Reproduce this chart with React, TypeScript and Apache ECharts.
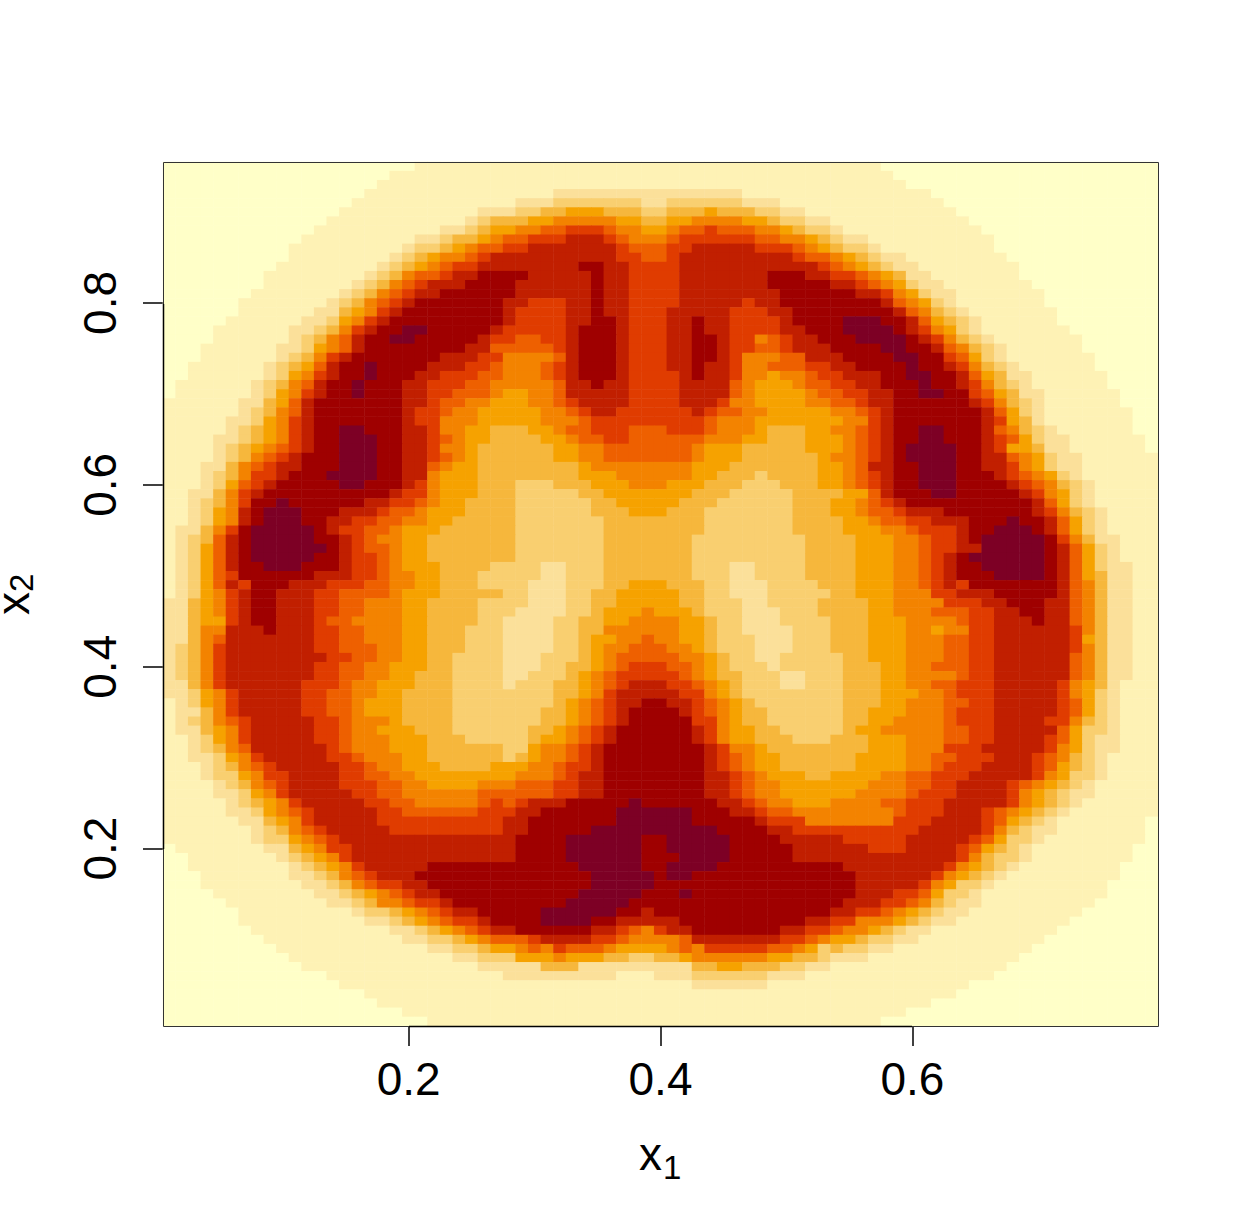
import React, { useEffect, useRef } from "react";
import * as echarts from "echarts";

// Level colours, lightest to darkest (a..l in the rows below)
const levelColors = [
  "#FFFFC8", "#FEF2B5", "#FBE09A", "#F9CF70", "#F6B73C", "#F6A200",
  "#F38300", "#EE6000", "#E03C00", "#C11F00", "#9F0000", "#7D0025",
];
const xTickValues = [0.2, 0.4, 0.6];
const yTickValues = [0.2, 0.4, 0.6, 0.8];
const xCount = 79;
const yCount = 95;

// Run-length coded rows, top (x2 = 0.95) to bottom (x2 = 0.01)
const rows = [
  "a20b37a22","a18b40a21","a17b42a20","a16b15c15b15a18","a15b13c3d7c2d6c3b13a17",
  "a14b11c3d2e2f3e3d2e3f1e3d2c2b12a16","a13b11c1d1e3f2g5f2e2f2g4f2e1d2c2b11a15",
  "a12b10c2d1e1f2g2h2i3h1g2f2g1h2i1h3g2f1e1d2c1b11a14",
  "a11b9c2d1e2f1g1h2i3j3i1h1g3h1i6h2g2f1e1d1c2b10a13",
  "a10b9c1d2e1f1g1h2i2j7i1h3i2j5i3h1g1f1e1d2c1b9a13",
  "a10b8c1d1e1f1g2h1i1j10i2h2i1j9i1h2g1f1e1d1c2b8a12",
  "a9b8c1d1e1f1g1h1i2j8k2j2i4j11i1h1g1f1e1d1c2b8a11",
  "a8b8c1d1e1g1h2i1j2k4j5k1j2i4j7k3j2i2h1g1f1e1c2b7a11",
  "a8b7c1d1e1g1h1i1j3k4j6k1j2i4j7k5j2i1h1g1f1d1c2b7a10",
  "a7b7c1d1e1g1h1i1j2k6j6k1j2i4j8k6j2i1g1f1d1c2b7a9",
  "a6b7c1d1e1g1h1i1j1k7j2i3j2k1j2i4j5i1j2k8j1h1g1f1d1c1b7a9",
  "a6b6c2e1f1g1i1j1k8j1i4j2k1j2i3j5i3j2k8j1h1g1e1d1c1b7a8",
  "a5b6c2d1f1g1i1j1k9j1i4j2k2j1i3j2k1j2i4j1k4l3k2j1h1f1e1d1c1b6a8",
  "a4b6c2d1e1g1i1j1k2l2k5j1i5j1k3j1i3j2k1j2i4j2k3l4k1j1i1g1f1d1c1b7a7",
  "a4b6c1d1e1g1h1j1k2l2k5j1i2h2i2j1k3j1i3j2k2j1i2g1h1i1j2k3l4k1j1i1g1e1d1c1b7a6",
  "a3b6c2d1f1g1h1j1k8j2h5i1j1k3j1i3j2k2j1i2h2i1j3k4l2k2j1h1g1e1d1c1b6a6",
  "a3b6c1d1e1g1i1j1k7j3i2g4h1j1k3j1i3j2k2j1i1g3h2j3k4l2k2i1h1f1d1c1b7a5",
  "a2b6c1d1e1f1h1j1k2l1k4j3i2h1g3h1i1j1k3j1i3j2k1j2i1g2h3i2j2k4l1k2j1i1g1e1d1c1b6a5",
  "a2b6c1d1f1g1i1j1k2l1k3j2i3h2g3h1i1j1k3j1i4j1k1j2i1g2f1g2h1i2j3k2l2k2j1h1f1e1c2b6a4",
  "a1b6c1d1e1g1h1j1k2l1k3j2i3h2g5h1j2k1j2i4j4h1g1f3g1h2i2j2k3l1k2j1i1g1e1d1c1b6a4",
  "a1b6c1d1f1g1i1j1k2l1k3j2i2h3g1f2g2h1j5i4j4h1g1f4g1h2i2j2k2l2k2i1h1f1e1c2b6a3",
  "b6c2e1f1h1j1k7j2i1h2g2f3g2h1i1j4i4j3i1g2f4g2h2i1j2k6j1i1g1e1d1c1b6a3",
  "b6c1d1e1g1h1j1k7j1i2h1g2f5g2h1i1j2i6j1i1h2g2f5g2h1i1j1k7j1h1f1d1c1b7a2",
  "b5c2d1f1g1i1j1k7j1i2g3f5g3h1i9h1g3f7g2i1j1k7j1i1f1e1c1b7a2",
  "b5c1d1e1f1g1i1j1k2l2k3j2i1g2f2e3f2g1h2i3h3i3h1g3f1e3f2g2h1i1j1k2l2k3j1h1g1e1d1c1b6a2",
  "b4c2d1e1f1g1i1j1k2l3k2j2i1h1g1f2e4f2g1h2i2h6g3f2e3f3g1h1i1j1k2l2k3j1i1h1f1d1c2b6a1",
  "b4c1d1e1f1g1h1i1j1k2l3k2j2i1g2f1e6f2g2h7g1f3e5f3g1h1i1j1k1l4k2j1i1f2e1c2b6a1",
  "b4c1d1e1g1h1i1j1k3l3k2j2i1h1g1f1e6f2g2h7g1f3e6f1g2h1i1j1k1l4k2j2h1g1f1d1c2b6",
  "b3c2e1g1h1i1j2k3l3k2j2h1g1f2e8f1g8f3e7f2g1h1j2k2l3k2j2i1g1f1d1c2b6",
  "b3c1d1e1g1i2j1k3l4k2j2g1f3e8f3g6f2e3d1e4f2g1h1i1j1k2l3k3j1i1h1g1f1d1c1b6",
  "b3c1d1f1h1i1j1k5l2k3j1i1g1f3e3d3e3f3g3f3e3d3e3f2g1h1i1j1k2l3k4j1i1h1g1e1d1c1b5",
  "b2c2e1g1i1j1k10j1i2g1f3e3d5e2f7e3d5e4f2h1j1k3l2k5j1i1g1f1d1c1b5",
  "b2c1d1e1g1i1k2l1k6j2i2h1g1f2e4d6e2f5e3d6e3f2g1h1i1j1k10j1h1f1d1c1b5",
  "b2c1d1f1g1j1k1l3k3j3i1h2g1f3e4d6e3f3e3d7e3f2g1h2i1j3k7j1i1g1e1d1c1b4",
  "b2c1d1f1g1j1k1l3k2j2i2h2g2f2e5d7e8d7e4f2g1h2i2j3k3l1k2j1h1f1d1c1b4",
  "b1c2e1g1i1k1l5k1j1i2h2g1f3e6d7e8d7e4f3g2h1i3j1k2l3k1j1h1f1d1c1b4",
  "b1c1d1e1h1j1k1l5k2j1i1h1g2f2e7d7e7d9e4f3g2h1i2j1k1l5k1i1g1e1c2b3",
  "b1c1d1f1h1j1k1l6k1j1i1h2g1f2e7d7e7d9e4f3g2h1i2j2l5k1j1h1f1d1c1b3",
  "b1c1d1f1h1j1k1l5k2j1i2h1g1f2e7d7e7d9e4f3g2h1i1j1k1l6k1j1h1f1d1c1b3",
  "b1c1d1f1h1j1k2l3k3j1i2h1g1f3e4d4c2d3e7d3c2d4e4f3g2h1i1j1k2l5k1j1h1f1d1c2b2",
  "b1c1d1f1h1i1k6j3i2h1g2f2e3d5c2d3e7d3c2d4e4f3g2h1i1j1k3l4k1j1h1f1e1c2b2",
  "b1c1d1f1h1j1i1k3j3i3h2g2f2e3d4c3d3e2f3e3d2c3d4e3f3g2h1i1j1i1k7j1h1g1e1c2b2",
  "b1c1d1f1g1i1j1k2j3i2h4g1f3e5d2c3d2e2f5e2d2c3d5e2f3g3i2j3k5j1h1g1e1c2b2",
  "c2e1f1g1i1j1k2j3i2h2g3f2e4d4c3d2e2f5e2d3c2d4e4f2g4i3j2k3j2h1g1e1c2b2",
  "c2e1f1g1i1j1k2j3i2h2g3f2e4d3c4d2e1f3g1f3e1d3c3d3e4f2g3h3i2j2k2j2h1g1e1c2b2",
  "c2e1f2i1j1k2j3i1h2g4f2e4d2c4d2e2f2g4f2e1d2c3d4e3f3g4h1i2j3k1j2h1g1e1c2b2",
  "c2e1g2j3k1j3i2h2g3f2e3d3c4d2e2g6f2e1d2c4d3e3f3g2f1g2i2j6i1g1e1c2b2",
  "c2e1g1h1j7i2h2g3f2e3d3c4d2e1f2g2h1g2f2e1d3c3d3e3f3g3h2i2j6i1f1e1c2b2",
  "c1d1e1g1i1j7i2h3g2f2e3d3c4d2e1f1g2h3g2f1e1d3c3d3e3f3g3h2i2j6i1g1e1c2b2",
  "c1d1e1g1i1j8i2h2g2f2e2d4c3d3e1f1g1h5g2f1e1d2c2d5e2f3g3h2i2j6h1g1e1c2b2",
  "c1d1e1g1i1j7i2h2g2f3e2d4c3d2e2f1g1h1i3h2g1f1e1d3c1d5e3f2g2h3i2j6h1g1e1c2b2",
  "c1d1e1g1i1j7i2h2g2f2e3d4c2d3e1f1g1h1i5h1g1f1e2d3c2d3e3f2g4h1i2j6h1g1e1c2b2",
  "c2e1g1i1j6i3h1g2f3e3d4c1d3e2f1g1h1i1j3i2h1g1f1e1d3c2d3e3f2g2h2i3j5i1g1f1e1c1b3",
  "c2d1f1g1i1j5i2h2g2f2e4d8e2f1g1i1j5i2g1f1e1d8e3f3g2h1i3j5i1g1f1d1c1b3",
  "b1c1d1f1g1i1j5i2h2g1f3e4d8e1f1g1h1i1j2k2j2i1h1g1f1e1d7e3f2g3h2i2j5i1h1f1d1c1b3",
  "b1c2e1g1i1j5i2h2g1f3e4d7e2f1g1h1i1j1k4j1i1h1g1f1e2d6e2f3g3h1i3j5i1h1f1d1c1b3",
  "b1c1d1e1g1h1i1j5i2h1g3f1e4d7e2f1g1h1i1j1k5i2g1f1e2d6e2f2g4h1i3j4i2g1e1d1c1b3",
  "b1c2e1f1g1i1j5i2h1g2f3e3d6e2f1g1h1i1j1k6j1i1g1f2e2d5e1f2g5h2i2j5h1f1d2c1b3",
  "b2c1d1f1g1i1j5i2h1g3f3e3d5e1f2g1h1i1j1k6j1i1g1f2e3d3e3f3g3h2i2j4i1h1f1d1c2b3",
  "b2c1d1e1g1h1j6i1h1g3f3e6d2f1g2h1i1j1k8j1i1g2f1e8f3g3i3j5i1g1f1d1c2b3",
  "b2c2d1f1g1i1j5i2h1g3f2e6d1e1f1g2h1i1j1k8j1i1h1g1f2e6f4g2h2i3j3i1h1g1e1d1c1b4",
  "b3c1d1e1g1h1i1j5i2h1g2f3e4f3g2h1i2j1k8j1i1h1g1f2e6f4g2h1i3j4i1h1f1e1d1c1b4",
  "b3c1d2f1g1i2j4i2h2g2f8g3h1i1j2k8j2i1h1g1f3e2f4g2h2i3j5i1g1f1d2c1b4",
  "b4c1d1e1g1h1i1j4i3h2g2f4g3h3i2j2k8j2i1h1g2f7g3h2i2j4i1h1g1f1e1d1c1b5",
  "b4c2d1f1g1i1j5i2h2g6h6i2j2k8j2i1h1g2f6g4h1i3j4i1g1f1e1d1c2b5",
  "b5c1d1e1f1g1i1j5i2h2g5h1i1h1i1j3k5l1k6j2i1h1g2f3g4h2i3j5i1g1f1e1d1c1b6",
  "b5c2d1f1g1h1i1j5i2h6i3j2k6l6k3j2i1h2g8h1i3j3i1h1g1f1e1d1c1b7",
  "b6c2e1f1g1i1j5i10j2k7l6k5j1i3g7i3j4i1h1f1e1d1c1b7a1",
  "b7c1d1e1g1h1i1j5i9j2k5l10k4j2i10j5i1g1e1d1c2b7a1",
  "b7c1d2f1g1h1i1j14k4l6k2l5k4j5i5j5i1h1f1d2c1b8a1",
  "a1b7c2e1f1g1i2j13k4l6k2l5k5j6i3j4i1h1f1e1d1c1b8a2",
  "a2b7c1d1e1f1g1i1j13k4l6k3l4k5j13i1g1e1d2c1b8a2",
  "a2b8c1d1e1f1g1i1j5k12l5k2l4k10j8i1g1f1e1d1c1b8a3",
  "a3b7c2d1e1g1h1i1j3k14l5k1l2k13j6i1g1f1e1d1c1b9a3",
  "a3b8c2d1e1g1h1i2j2k13l5k16j5i1g1f1d2c1b9a4",
  "a4b8c2d1e1f1g1h1i1j2k11l5k3l1k13j3i2h1f1d2c1b10a4",
  "a5b8c2d1e1g2h1i2j1k9l5k17j3i2h1g1e1d1c2b9a5",
  "a6b9c1d2e1f1g1h1i1j2k5l6k2j1k14j2i2h1g1f1e1d1c2b9a6",
  "a6b10c2d1e1f1g1h1i2j1k4l4k2j5k10j2i2g3f1e1d1c2b9a7",
  "a7b11c2d1e1f1g1h1i1j2k6j2i1h1g1i1j2k7j2i2h1g2f1e1d1c2b10a8",
  "a8b11c2d2e1f1g1h3i1j4i2h1g4h1j7i2h1g1f2e1d2c2b10a9",
  "a9b12c2d2e1f2g1h1g1i1h3g1f4g1h1g1i5h2g1f1d1e1d2c2b11a10",
  "a10b13c2d3f3g1f3e2d2e2f1g6f2e2d1c3b12a11",
  "a11b14c5e3c9e2f2e3d2c2b14a12",
  "a13b14c9b3c3d6c3b15a13",
  "a14b28c6b16a15",
  "a16b47a16",
  "a17b44a18",
  "a19b40a20",
  "a21b36a22",
];

function decodeRow(row: string): number[] {
  const out: number[] = [];
  for (const m of row.matchAll(/([a-l])(\d+)/g)) {
    const level = m[1].charCodeAt(0) - 97;
    for (let i = 0; i < Number(m[2]); i++) out.push(level);
  }
  return out;
}

export default function App() {
  const ref = useRef<HTMLDivElement>(null);
  useEffect(() => {
    const chart = echarts.init(ref.current!, undefined, { renderer: "svg" });
    const xCats = Array.from({ length: xCount }, (_, i) => ((i + 1) / 100).toFixed(2));
    const yCats = Array.from({ length: yCount }, (_, i) => ((i + 1) / 100).toFixed(2));
    const data: number[][] = [];
    rows.forEach((row, r) => {
      decodeRow(row).forEach((level, c) => data.push([c, yCount - 1 - r, level]));
    });
    const font = "'Liberation Sans', Arial, Helvetica, sans-serif";
    const isTick = (ticks: number[]) => (_: number, v: string) =>
      ticks.some((t) => Math.abs(t - parseFloat(v)) < 1e-6);
    const axisBase = (cats: string[], ticks: number[], margin: number, rotate: number) => ({
      type: "category",
      data: cats,
      boundaryGap: true,
      axisLine: { show: false },
      splitLine: { show: false },
      splitArea: { show: false },
      axisTick: {
        show: true,
        alignWithLabel: true,
        interval: isTick(ticks),
        length: 20,
        lineStyle: { color: "#000", width: 1.5 },
      },
      axisLabel: {
        show: true,
        interval: isTick(ticks),
        formatter: (v: string) => String(parseFloat(v)),
        fontSize: 46,
        fontFamily: font,
        color: "#000",
        margin,
        rotate,
      },
    });
    chart.setOption({
      animation: false,
      grid: { left: 163, top: 162, width: 995, height: 864, show: false },
      xAxis: axisBase(xCats, xTickValues, 30, 0),
      yAxis: axisBase(yCats, yTickValues, 40, 90),
      visualMap: {
        show: false,
        type: "continuous",
        min: 0,
        max: levelColors.length - 1,
        dimension: 2,
        inRange: { color: levelColors },
      },
      series: [
        {
          type: "heatmap",
          data,
          progressive: 0,
          silent: true,
          emphasis: { disabled: true },
          itemStyle: { borderWidth: 0 },
        },
      ],
      graphic: [
        {
          type: "rect",
          z: 100,
          shape: { x: 163.5, y: 162.5, width: 995, height: 864 },
          style: { fill: "none", stroke: "#333", lineWidth: 1 },
        },
        {
          type: "line",
          z: 101,
          shape: { x1: 163.5, y1: 304, x2: 163.5, y2: 849 },
          style: { stroke: "#000", lineWidth: 1.5 },
        },
        {
          type: "line",
          z: 101,
          shape: { x1: 409, y1: 1026.5, x2: 912, y2: 1026.5 },
          style: { stroke: "#000", lineWidth: 1.5 },
        },
        {
          type: "text",
          z: 101,
          x: 639,
          y: 1131,
          style: { text: "x", fontSize: 46, fontFamily: font, fill: "#000" },
        },
        {
          type: "text",
          z: 101,
          x: 663,
          y: 1151,
          style: { text: "1", fontSize: 33, fontFamily: font, fill: "#000" },
        },
        {
          type: "text",
          z: 101,
          x: -10,
          y: 615,
          rotation: Math.PI / 2,
          style: { text: "x", fontSize: 46, fontFamily: font, fill: "#000" },
        },
        {
          type: "text",
          z: 101,
          x: 5,
          y: 592,
          rotation: Math.PI / 2,
          style: { text: "2", fontSize: 33, fontFamily: font, fill: "#000" },
        },
      ],
    });
    return () => chart.dispose();
  }, []);
  return (
    <div
      ref={ref}
      style={{ position: "absolute", left: 0, top: 0, width: 1239, height: 1231, background: "#fff" }}
    />
  );
}
